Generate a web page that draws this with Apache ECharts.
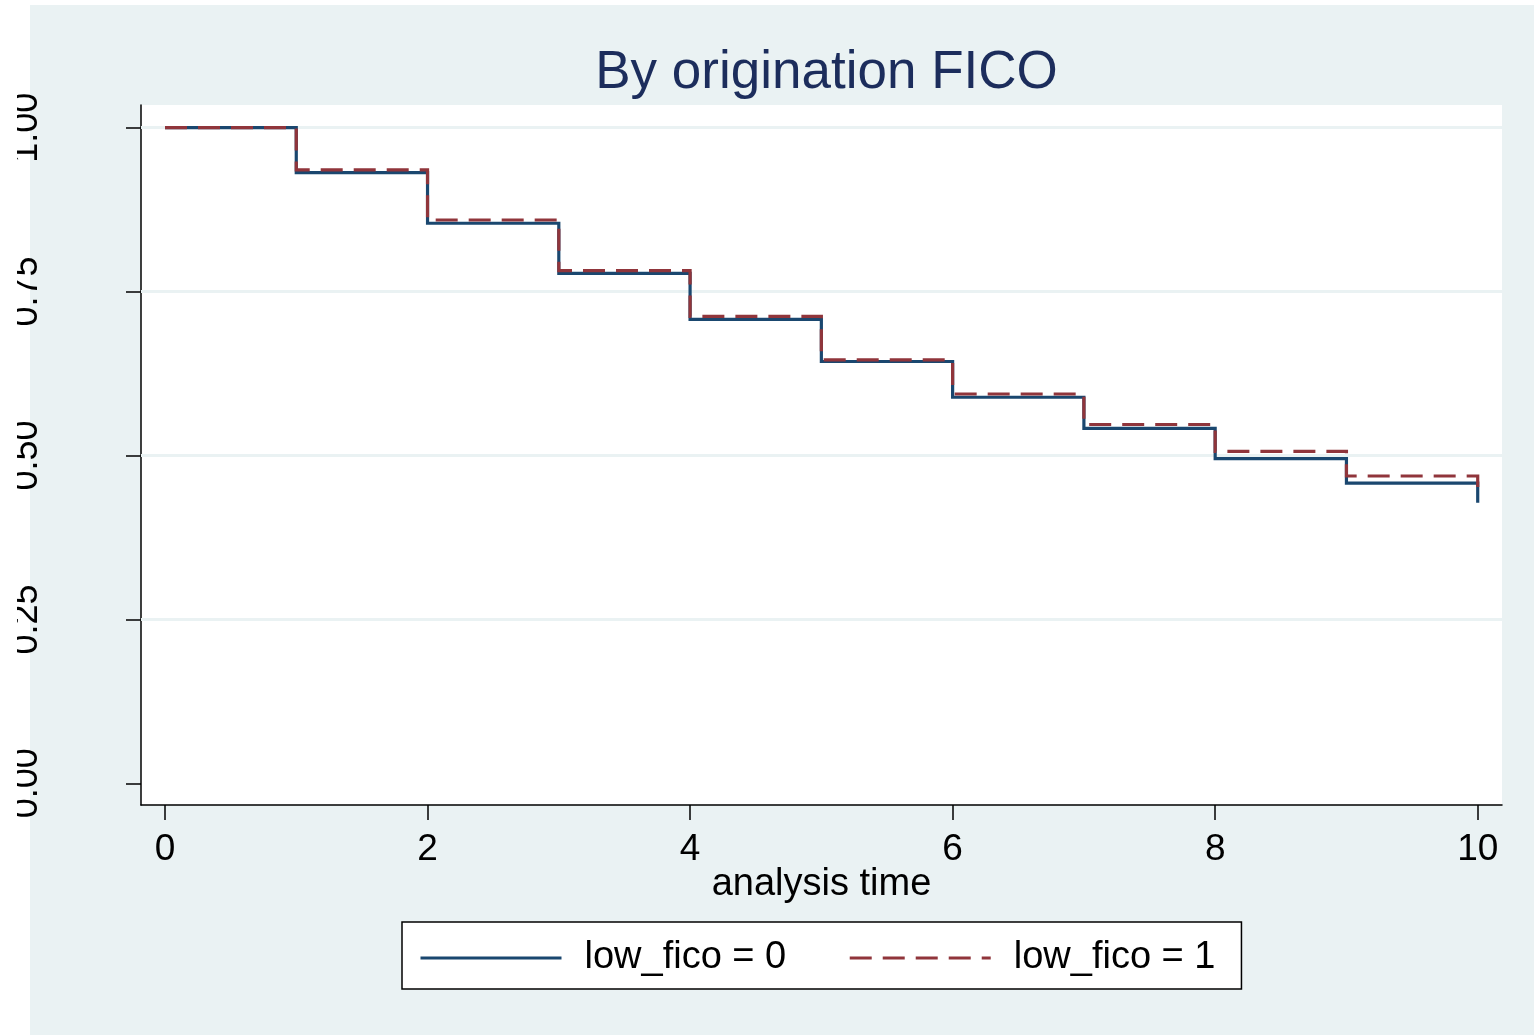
<!DOCTYPE html>
<html>
<head>
<meta charset="utf-8">
<script src="https://cdn.jsdelivr.net/npm/echarts@6/dist/echarts.min.js"></script>
<style>
html,body{margin:0;padding:0;background:#ffffff;}
#chart{width:1534px;height:1035px;}
</style>
</head>
<body>
<div id="chart"></div>
<script>
// ---- data ----
const times = [0, 1, 2, 3, 4, 5, 6, 7, 8, 9, 10];
const survivalLow0 = [1.0, 0.9314, 0.8542, 0.7779, 0.7077, 0.6434, 0.5888, 0.5415, 0.4951, 0.4577, 0.4280];
const survivalLow1 = [1.0, 0.9355, 0.8592, 0.7819, 0.7123, 0.6457, 0.5938, 0.5473, 0.5064, 0.4687, 0.4423];
const seriesNames = ['low_fico = 0', 'low_fico = 1'];
const xTickValues = [0, 2, 4, 6, 8, 10];
const yTickValues = [0, 0.25, 0.5, 0.75, 1.0];
const yGridValues = [0.25, 0.5, 0.75, 1.0];
const titleText = 'By origination FICO';
const xAxisTitle = 'analysis time';

const FONT = '"Liberation Sans", Arial, sans-serif';
const BG = '#eaf2f3';
const BLUE = '#1a476f';
const RED = '#90353b';
const DASH = [22, 11];

const chart = echarts.init(document.getElementById('chart'), null, {renderer: 'canvas'});

function pairs(xs, ys) { return xs.map((x, i) => [x, ys[i]]); }

const option = {
  animation: false,
  textStyle: {fontFamily: FONT},
  graphic: [
    {type: 'rect', z: -10, silent: true, shape: {x: 30, y: 5, width: 1504, height: 1030}, style: {fill: BG}},
    {type: 'rect', z: 100, zlevel: 1, silent: true, shape: {x: 0, y: 0, width: 17, height: 1035}, style: {fill: '#ffffff'}}
  ],
  title: {
    text: titleText,
    left: 821.5,
    textAlign: 'center',
    top: 42,
    textStyle: {fontFamily: FONT, fontSize: 53, fontWeight: 'normal', color: '#1c2d5c'}
  },
  grid: {
    left: 141, top: 105, width: 1361, height: 700,
    show: true, backgroundColor: '#ffffff', borderWidth: 0
  },
  legend: {
    data: [
      {name: seriesNames[0], itemStyle: {opacity: 0}, lineStyle: {color: BLUE, width: 3, type: 'solid'}},
      {name: seriesNames[1], itemStyle: {opacity: 0}, lineStyle: {color: RED, width: 3, type: DASH}}
    ],
    left: 402, top: 922,
    orient: 'horizontal',
    backgroundColor: '#ffffff',
    borderColor: '#000000', borderWidth: 1.5, borderRadius: 0,
    padding: [17, 26, 12, 17],
    itemWidth: 141, itemHeight: 20, itemGap: 62,
    itemStyle: {opacity: 0},
    textStyle: {fontFamily: FONT, fontSize: 38, color: '#000000', padding: [0, 0, 0, 18]}
  },
  xAxis: {
    type: 'value',
    min: -0.1828, max: 10.185,
    name: xAxisTitle,
    nameLocation: 'middle',
    nameGap: 61,
    nameMoveOverlap: false,
    nameTextStyle: {fontFamily: FONT, fontSize: 38, color: '#000000'},
    axisLine: {show: true, onZero: false, lineStyle: {color: '#000000', width: 1.5}},
    axisTick: {show: true, length: 15, lineStyle: {color: '#000000', width: 1.5}, customValues: xTickValues},
    axisLabel: {show: true, margin: 26, fontFamily: FONT, fontSize: 37, color: '#000000', customValues: xTickValues},
    splitLine: {show: false}
  },
  yAxis: {
    type: 'value',
    min: -0.0331, max: 1.0346,
    axisLine: {show: true, onZero: false, lineStyle: {color: '#000000', width: 1.5}},
    axisTick: {show: true, length: 15, lineStyle: {color: '#000000', width: 1.5}, customValues: yTickValues},
    axisLabel: {show: true, rotate: 90, margin: 96, fontFamily: FONT, fontSize: 36, color: '#000000',
      customValues: yTickValues, formatter: v => Number(v).toFixed(2)},
    splitLine: {show: false}
  },
  series: [
    {
      name: '__grid', type: 'line', data: [], z: 1, silent: true,
      markLine: {
        silent: true, z: 1, symbol: ['none', 'none'], animation: false,
        label: {show: false},
        lineStyle: {color: BG, width: 3, type: 'solid'},
        data: yGridValues.map(v => ({yAxis: v}))
      }
    },
    {
      name: seriesNames[0], type: 'line', step: 'end', z: 3,
      data: pairs(times, survivalLow0),
      showSymbol: false, symbol: 'none',
      itemStyle: {color: BLUE},
      lineStyle: {color: BLUE, width: 3.2, type: 'solid', cap: 'butt', join: 'miter'}
    },
    {
      name: seriesNames[1], type: 'line', step: 'end', z: 4,
      data: pairs(times, survivalLow1),
      showSymbol: false, symbol: 'none',
      itemStyle: {color: RED},
      lineStyle: {color: RED, width: 3.2, type: DASH, cap: 'butt', join: 'miter'}
    }
  ]
};
chart.setOption(option);
</script>
</body>
</html>
